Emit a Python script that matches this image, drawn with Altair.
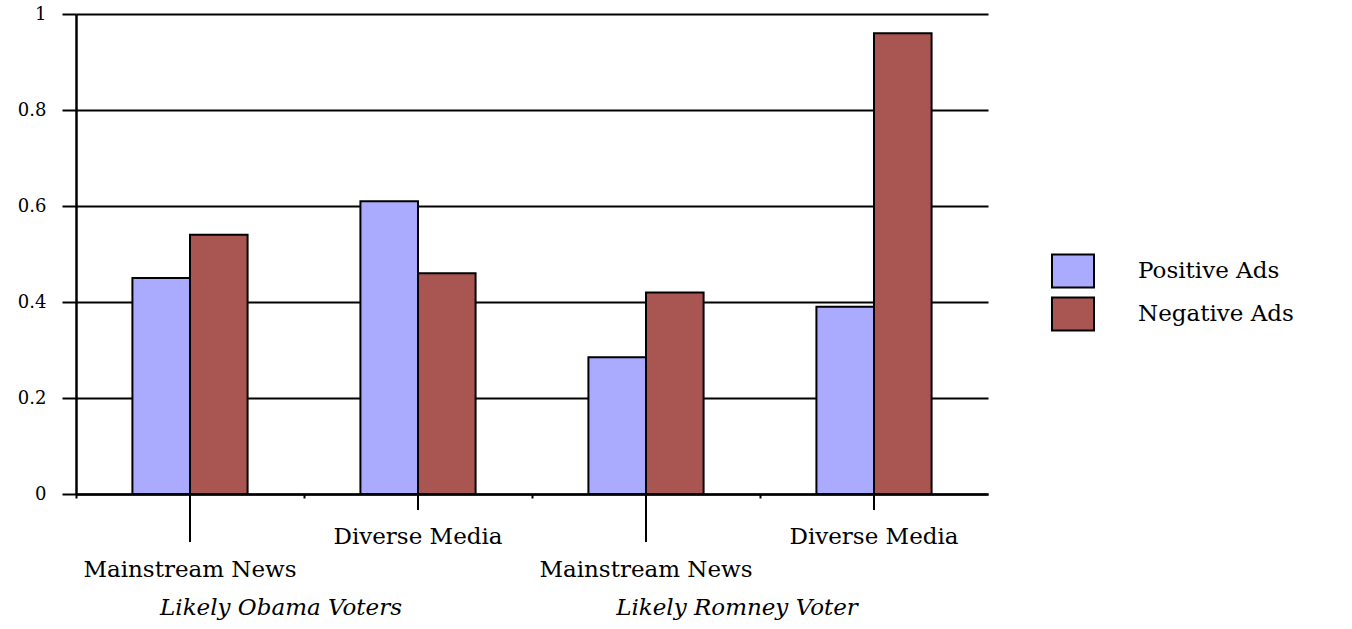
import altair as alt
import pandas as pd

# Survey groups, news diets and ad types
voter_groups = ["Likely Obama Voters", "Likely Romney Voter"]
news_sources = ["Mainstream News", "Diverse Media"]
ad_types = ["Positive Ads", "Negative Ads"]

# Shares per (group, news diet), in the order Obama/Mainstream, Obama/Diverse,
# Romney/Mainstream, Romney/Diverse
positive_ads = [0.45, 0.61, 0.285, 0.39]
negative_ads = [0.54, 0.46, 0.42, 0.96]

ad_colors = ["#AAAAFF", "#A95552"]
y_ticks = [0, 0.2, 0.4, 0.6, 0.8, 1]

FONT = "DejaVu Serif"

cells = [
    {"cell": f"{g} | {s}", "group": g, "source": s}
    for g in voter_groups
    for s in news_sources
]
cell_order = [c["cell"] for c in cells]
cells_df = pd.DataFrame(cells)

bars_df = pd.DataFrame([
    {"cell": c["cell"], "ad_type": t, "share": v}
    for t, vals in zip(ad_types, [positive_ads, negative_ads])
    for c, v in zip(cells, vals)
])

x_axis = alt.Axis(
    title=None, labels=False, tickSize=4, tickWidth=2, tickColor="black",
    bandPosition=0, domainColor="black", domainWidth=2.5, grid=False,
)
x_scale = alt.Scale(domain=cell_order, paddingInner=0, paddingOuter=0)


def x_enc(band_pos=None):
    kw = {}
    if band_pos is not None:
        kw["bandPosition"] = band_pos
    return alt.X("cell:N", sort=cell_order, scale=x_scale, axis=x_axis, title=None, **kw)


bars = alt.Chart(bars_df).mark_bar(stroke="black", strokeWidth=2).encode(
    x=x_enc(),
    xOffset=alt.XOffset(
        "ad_type:N", sort=ad_types,
        scale=alt.Scale(domain=ad_types, paddingInner=0, paddingOuter=0.98),
    ),
    y=alt.Y(
        "share:Q",
        scale=alt.Scale(domain=[0, 1], nice=False),
        axis=alt.Axis(
            values=y_ticks, title=None, grid=True, gridColor="black", gridWidth=2,
            tickSize=14, tickWidth=2, tickColor="black",
            domainColor="black", domainWidth=2.5,
            labelFont=FONT, labelFontSize=18, labelColor="black", labelPadding=16,
            labelExpr="format(datum.value, '~g')",
        ),
    ),
    color=alt.Color(
        "ad_type:N", sort=ad_types,
        scale=alt.Scale(domain=ad_types, range=ad_colors),
        legend=alt.Legend(
            title=None, orient="none", legendX=975, legendY=235,
            symbolType="M-1,-0.78H1V0.78H-1Z", symbolSize=1764,
            symbolStrokeColor="black", symbolStrokeWidth=2, symbolOpacity=1,
            labelFont=FONT, labelFontSize=23, labelColor="black",
            labelOffset=43, rowPadding=0, padding=0,
        ),
    ),
)

# Category ticks below the baseline: long for mainstream, short for diverse
main_ticks = alt.Chart(cells_df).transform_filter(
    alt.datum.source == news_sources[0]
).mark_rule(color="black", strokeWidth=2).encode(
    x=x_enc(0.5), y=alt.value(480), y2=alt.value(528)
)
diverse_ticks = alt.Chart(cells_df).transform_filter(
    alt.datum.source == news_sources[1]
).mark_rule(color="black", strokeWidth=2).encode(
    x=x_enc(0.5), y=alt.value(480), y2=alt.value(496)
)

label_style = dict(font=FONT, fontSize=23, color="black", align="center", baseline="middle")

diverse_labels = alt.Chart(cells_df).transform_filter(
    alt.datum.source == news_sources[1]
).mark_text(**label_style).encode(
    x=x_enc(0.5), y=alt.value(523), text="source:N"
)
main_labels = alt.Chart(cells_df).transform_filter(
    alt.datum.source == news_sources[0]
).mark_text(**label_style).encode(
    x=x_enc(0.5), y=alt.value(556), text="source:N"
)
group_labels = alt.Chart(cells_df).transform_filter(
    alt.datum.source == news_sources[1]
).mark_text(dx=-23, fontStyle="italic", **label_style).encode(
    x=x_enc(0), y=alt.value(594), text="group:N"
)

chart = alt.layer(
    bars, main_ticks, diverse_ticks, diverse_labels, main_labels, group_labels
).properties(
    width=912,
    height=480,
    autosize=alt.AutoSizeParams(type="none"),
    padding={"left": 76, "top": 14, "right": 364, "bottom": 135},
    background="white",
).configure_view(stroke=None)

chart.save("out.html", embed_options={"renderer": "svg", "actions": False})
